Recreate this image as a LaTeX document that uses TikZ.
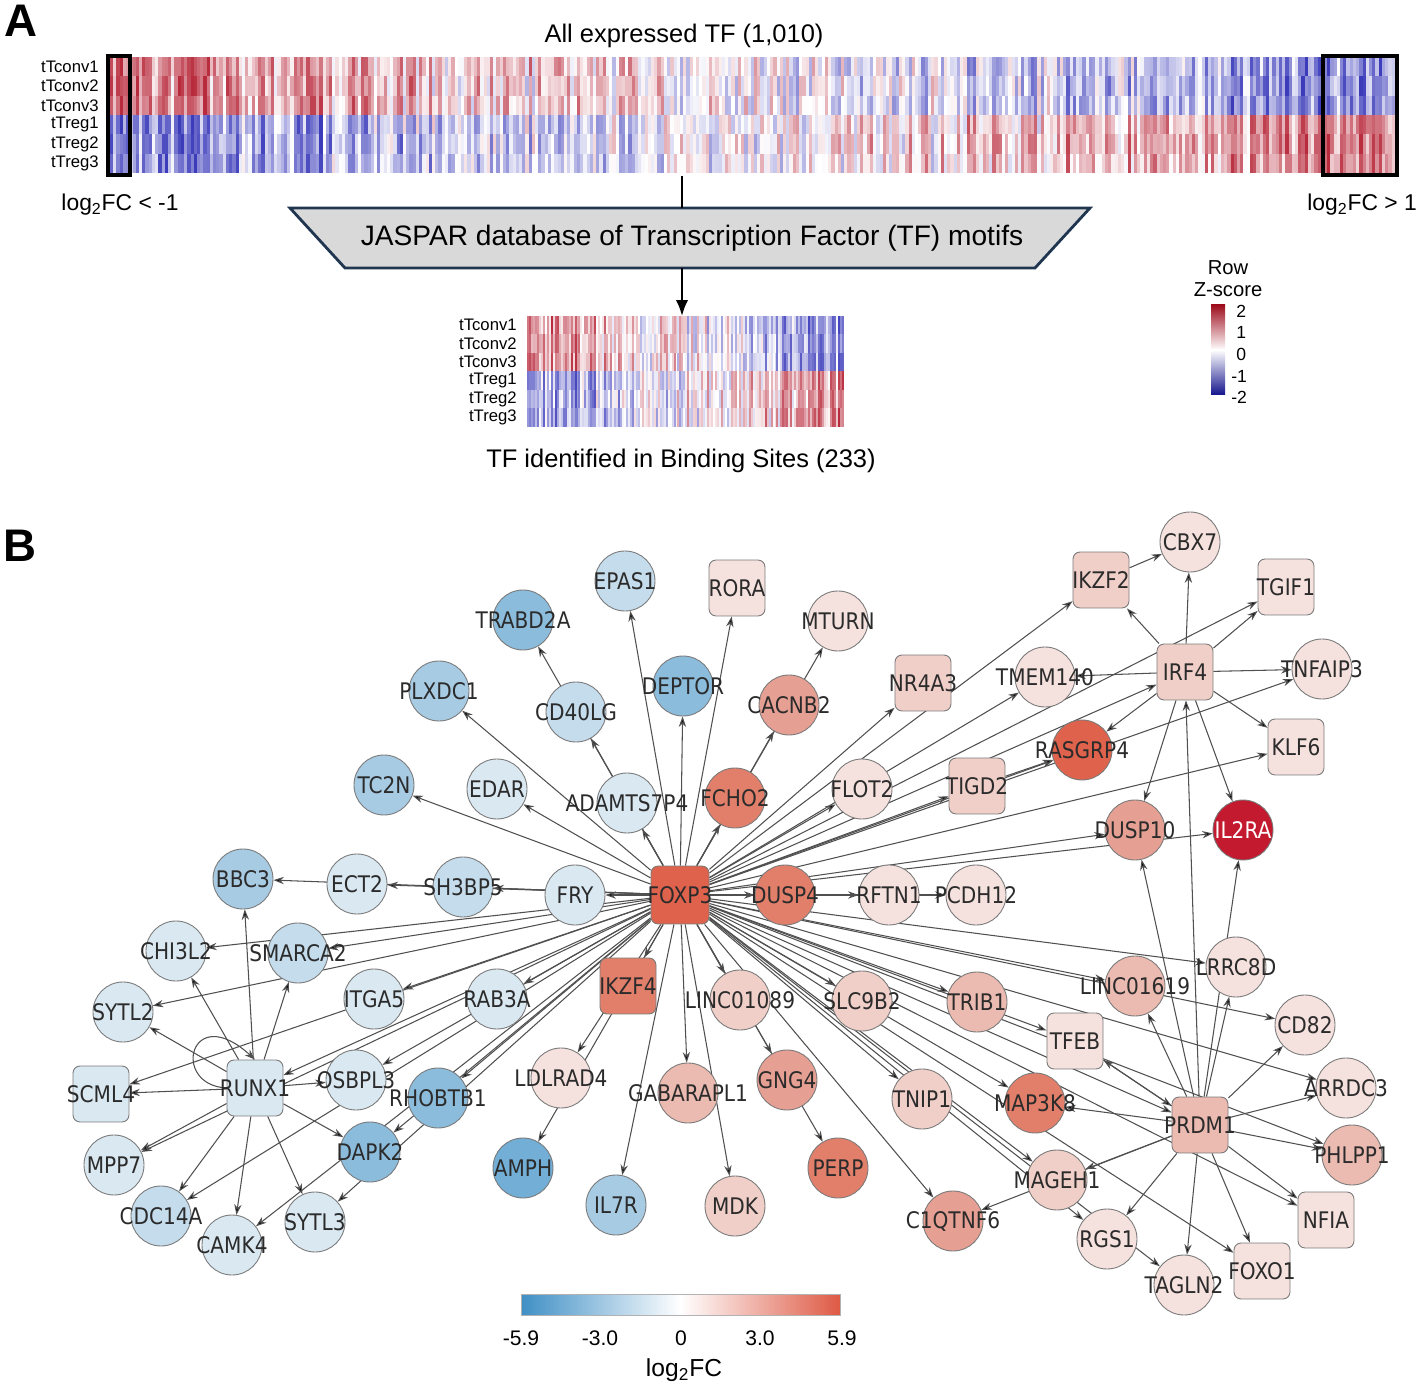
\documentclass[tikz,border=0pt]{standalone}
\usepackage{fontspec}
\setmainfont{Liberation Sans}
\newfontfamily\netfont[FakeStretch=0.88]{DejaVu Sans}
\usetikzlibrary{arrows.meta,positioning,calc}
\pgfdeclarelayer{edges}
\pgfsetlayers{edges,main}

\begin{document}
\begin{tikzpicture}[
    x=0.02cm, y=-0.02cm,
    >=Stealth,
    lbl/.style={font=\netfont\fontsize{13}{15}\selectfont, text=labelColor, inner sep=0pt},
    gene/.style={circle, draw=nodeLine, line width=0.5pt, minimum size=1.2cm, inner sep=0pt, label={[lbl]center:#1}},
    tfbox/.style={rectangle, rounded corners=4pt, draw=nodeLine, line width=0.5pt, minimum size=1.12cm, inner sep=0pt, label={[lbl]center:#1}},
    edge/.style={draw=edgeColor, line width=0.6pt, -{Stealth[length=6pt,width=4.2pt]}},
    rowlab/.style={font=\fontsize{9.5}{10}\selectfont, anchor=east, inner sep=0pt},
    ticklab/.style={font=\fontsize{12}{14}\selectfont, inner sep=0pt},
    ]

    % Colors
    \definecolor{labelColor}{HTML}{2B2B2B}
    \definecolor{nodeLine}{HTML}{7A7A7A}
    \definecolor{edgeColor}{HTML}{505050}
    \definecolor{hmRed}{HTML}{B2182B}
    \definecolor{hmBlue}{HTML}{2B2BB5}
    \definecolor{zTop}{HTML}{9E0E1E}
    \definecolor{zBot}{HTML}{13138C}
    \definecolor{jaspFill}{HTML}{D9D9D9}
    \definecolor{jaspLine}{HTML}{1F3550}
    \definecolor{fcBlue}{HTML}{3F8FC5}
    \definecolor{fcRed}{HTML}{DE5A45}
    \definecolor{b1}{HTML}{DAE8F2}
    \definecolor{b2}{HTML}{C5DCEC}
    \definecolor{b3}{HTML}{A8CBE4}
    \definecolor{b4}{HTML}{8CBCDC}
    \definecolor{b5}{HTML}{72AED6}
    \definecolor{r1}{HTML}{F5E1DD}
    \definecolor{r2}{HTML}{F0CFC8}
    \definecolor{r3}{HTML}{EBBAB0}
    \definecolor{r4}{HTML}{E6A093}
    \definecolor{r5}{HTML}{E27F6B}
    \definecolor{r6}{HTML}{DF634C}
    \definecolor{r7}{HTML}{C41A2F}

    \useasboundingbox (0,0) rectangle (1417,1391);

    % ---------------- Panel A ----------------
    \node[font=\bfseries\fontsize{26}{28}\selectfont, inner sep=0pt] (panelA) at (21,21) {A};
    \node[font=\fontsize{14.5}{16}\selectfont] (allTitle) at (684,36) {All expressed TF (1,010)};

    % Big heatmap
    \pgfmathsetseed{11}
    \foreach \ci in {0,...,399}{
      \pgfmathsetmacro{\hx}{110+\ci*3.22}
      \pgfmathsetmacro{\dv}{1.2*(1-2*\ci/399)+0.8*rand}
      \foreach \ri in {0,...,5}{
        \pgfmathsetmacro{\zv}{(\ri<3 ? 1 : -1)*\dv+0.5*rand}
        \pgfmathtruncatemacro{\pc}{min(92,abs(\zv)*45)}
        \ifdim\zv pt>0pt\def\hc{hmRed}\else\def\hc{hmBlue}\fi
        \fill[\hc!\pc!white] (\hx,{57+\ri*19.33}) rectangle ++(3.3,19.33);
      }
    }
    \foreach \lab [count=\k from 0] in {tTconv1,tTconv2,tTconv3,tTreg1,tTreg2,tTreg3}
      \node[rowlab] (bigrow\k) at (99,{66.7+\k*19.33}) {\lab};

    % Selection boxes
    \draw[line width=2.7pt] (108,56) rectangle (130,175);
    \draw[line width=2.7pt] (1323,56) rectangle (1397,175);
    \node[font=\fontsize{13}{15}\selectfont] (lowFC) at (120,205) {log\textsubscript{2}FC < -1};
    \node[font=\fontsize{13}{15}\selectfont] (highFC) at (1362,205) {log\textsubscript{2}FC > 1};

    % JASPAR filter
    \draw[fill=jaspFill, draw=jaspLine, line width=1.6pt] (290,208) -- (1090,208) -- (1035,268) -- (345,268) -- cycle;
    \node[font=\fontsize{16}{18}\selectfont] (jaspar) at (692,238) {JASPAR database of Transcription Factor (TF) motifs};
    \coordinate (hmBottom) at (682,176);
    \coordinate (jTop) at (682,208);
    \coordinate (jBot) at (682,268);
    \coordinate (smallTop) at (682,316);
    \draw[line width=1.2pt] (hmBottom) -- (jTop);
    \draw[line width=1.2pt, -{Latex[length=9pt,width=7pt]}] (jBot) -- (smallTop);

    % Small heatmap
    \foreach \ci in {0,...,159}{
      \pgfmathsetmacro{\hx}{527+\ci*1.98}
      \pgfmathsetmacro{\dv}{1.1*(1-2*\ci/159)+0.8*rand}
      \foreach \ri in {0,...,5}{
        \pgfmathsetmacro{\zv}{(\ri<3 ? 1 : -1)*\dv+0.5*rand}
        \pgfmathtruncatemacro{\pc}{min(92,abs(\zv)*45)}
        \ifdim\zv pt>0pt\def\hc{hmRed}\else\def\hc{hmBlue}\fi
        \fill[\hc!\pc!white] (\hx,{316+\ri*18.5}) rectangle ++(2.05,18.5);
      }
    }
    \foreach \lab [count=\k from 0] in {tTconv1,tTconv2,tTconv3,tTreg1,tTreg2,tTreg3}
      \node[rowlab] (smallrow\k) at (517,{325+\k*18.5}) {\lab};
    \node[font=\fontsize{14.5}{16}\selectfont] (bindTitle) at (681,461) {TF identified in Binding Sites (233)};

    % Row Z-score legend
    \node[font=\fontsize{11.5}{13}\selectfont] (zRow) at (1228,268) {Row};
    \node[font=\fontsize{11.5}{13}\selectfont] (zScore) at (1228,290) {Z-score};
    \shade[top color=zTop, bottom color=white] (1211,305) rectangle (1225,350);
    \shade[top color=white, bottom color=zBot] (1211,350) rectangle (1225,395);
    \node[font=\fontsize{10}{12}\selectfont, anchor=west, inner sep=0pt] (z2) at (1236,311) {2};
    \node[font=\fontsize{10}{12}\selectfont, anchor=west, inner sep=0pt] (z1) at (1236,332) {1};
    \node[font=\fontsize{10}{12}\selectfont, anchor=west, inner sep=0pt] (z0) at (1236,354) {0};
    \node[font=\fontsize{10}{12}\selectfont, anchor=west, inner sep=0pt] (zm1) at (1231,376) {-1};
    \node[font=\fontsize{10}{12}\selectfont, anchor=west, inner sep=0pt] (zm2) at (1231,397) {-2};

    % ---------------- Panel B ----------------
    \node[font=\bfseries\fontsize{26}{28}\selectfont, inner sep=0pt] (panelB) at (20,546) {B};

    % Hubs
    \node[tfbox=FOXP3, fill=r6, minimum size=1.16cm] (FOXP3) at (680,895) {};
    \node[tfbox=RUNX1, fill=b1] (RUNX1) at (255,1088) {};
    \node[tfbox=IRF4, fill=r2] (IRF4) at (1185,672) {};
    \node[tfbox=PRDM1, fill=r3] (PRDM1) at (1200,1125) {};

    % Upper fan
    \node[gene=EPAS1, fill=b2] (EPAS1) at (625,581) {};
    \node[tfbox=RORA, fill=r1] (RORA) at (737,588) {};
    \node[gene=TRABD2A, fill=b4] (TRABD2A) at (523,620) {};
    \node[gene=MTURN, fill=r1] (MTURN) at (838,621) {};
    \node[gene=PLXDC1, fill=b3] (PLXDC1) at (439,691) {};
    \node[gene=CD40LG, fill=b2] (CD40LG) at (576,712) {};
    \node[gene=DEPTOR, fill=b4] (DEPTOR) at (683,686) {};
    \node[gene=CACNB2, fill=r4] (CACNB2) at (789,705) {};
    \node[gene=TC2N, fill=b3] (TC2N) at (384,785) {};
    \node[gene=EDAR, fill=b1] (EDAR) at (497,789) {};
    \node[gene=ADAMTS7P4, fill=b1] (ADAMTS7P4) at (627,803) {};
    \node[gene=FCHO2, fill=r5] (FCHO2) at (735,798) {};
    \node[gene=FLOT2, fill=r1] (FLOT2) at (862,789) {};

    % Upper right
    \node[tfbox=NR4A3, fill=r2] (NR4A3) at (923,683) {};
    \node[gene=TMEM140, fill=r1] (TMEM140) at (1045,677) {};
    \node[tfbox=IKZF2, fill=r2] (IKZF2) at (1101,580) {};
    \node[gene=CBX7, fill=r1] (CBX7) at (1190,542) {};
    \node[tfbox=TGIF1, fill=r1] (TGIF1) at (1286,587) {};
    \node[gene=TNFAIP3, fill=r1] (TNFAIP3) at (1322,669) {};
    \node[tfbox=KLF6, fill=r1] (KLF6) at (1296,747) {};
    \node[gene=RASGRP4, fill=r6] (RASGRP4) at (1082,750) {};
    \node[tfbox=TIGD2, fill=r2] (TIGD2) at (977,786) {};
    \node[gene=DUSP10, fill=r4] (DUSP10) at (1135,830) {};
    \node[gene={\textcolor{white}{IL2RA}}, fill=r7] (IL2RA) at (1243,830) {};

    % Middle row
    \node[gene=BBC3, fill=b3] (BBC3) at (243,879) {};
    \node[gene=ECT2, fill=b1] (ECT2) at (357,884) {};
    \node[gene=SH3BP5, fill=b2] (SH3BP5) at (463,887) {};
    \node[gene=FRY, fill=b1] (FRY) at (575,895) {};
    \node[gene=DUSP4, fill=r5] (DUSP4) at (785,895) {};
    \node[gene=RFTN1, fill=r1] (RFTN1) at (889,895) {};
    \node[gene=PCDH12, fill=r1] (PCDH12) at (976,895) {};

    % Lower left
    \node[gene=CHI3L2, fill=b1] (CHI3L2) at (176,951) {};
    \node[gene=SMARCA2, fill=b2] (SMARCA2) at (298,953) {};
    \node[gene=SYTL2, fill=b1] (SYTL2) at (123,1012) {};
    \node[gene=ITGA5, fill=b1] (ITGA5) at (374,999) {};
    \node[gene=RAB3A, fill=b1] (RAB3A) at (497,999) {};
    \node[tfbox=SCML4, fill=b1] (SCML4) at (101,1094) {};
    \node[gene=OSBPL3, fill=b1] (OSBPL3) at (356,1080) {};
    \node[gene=RHOBTB1, fill=b4] (RHOBTB1) at (438,1098) {};
    \node[gene=MPP7, fill=b1] (MPP7) at (114,1165) {};
    \node[gene=DAPK2, fill=b4] (DAPK2) at (370,1152) {};
    \node[gene=CDC14A, fill=b2] (CDC14A) at (161,1216) {};
    \node[gene=SYTL3, fill=b1] (SYTL3) at (315,1222) {};
    \node[gene=CAMK4, fill=b1] (CAMK4) at (232,1245) {};

    % Lower middle
    \node[tfbox=IKZF4, fill=r5] (IKZF4) at (628,986) {};
    \node[gene=LINC01089, fill=r2] (LINC01089) at (740,1000) {};
    \node[gene=LDLRAD4, fill=r1] (LDLRAD4) at (561,1078) {};
    \node[gene=GABARAPL1, fill=r3] (GABARAPL1) at (688,1093) {};
    \node[gene=GNG4, fill=r4] (GNG4) at (787,1080) {};
    \node[gene=AMPH, fill=b5] (AMPH) at (523,1168) {};
    \node[gene=PERP, fill=r5] (PERP) at (838,1168) {};
    \node[gene=IL7R, fill=b3] (IL7R) at (616,1205) {};
    \node[gene=MDK, fill=r2] (MDK) at (735,1206) {};

    % Lower right
    \node[gene=SLC9B2, fill=r2] (SLC9B2) at (862,1001) {};
    \node[gene=TRIB1, fill=r3] (TRIB1) at (977,1002) {};
    \node[gene=LINC01619, fill=r3] (LINC01619) at (1135,986) {};
    \node[gene=LRRC8D, fill=r1] (LRRC8D) at (1236,967) {};
    \node[gene=CD82, fill=r1] (CD82) at (1305,1025) {};
    \node[tfbox=TFEB, fill=r1] (TFEB) at (1075,1041) {};
    \node[gene=TNIP1, fill=r2] (TNIP1) at (922,1099) {};
    \node[gene=MAP3K8, fill=r5] (MAP3K8) at (1035,1103) {};
    \node[gene=ARRDC3, fill=r1] (ARRDC3) at (1346,1088) {};
    \node[gene=PHLPP1, fill=r3] (PHLPP1) at (1352,1155) {};
    \node[gene=MAGEH1, fill=r2] (MAGEH1) at (1057,1180) {};
    \node[tfbox=NFIA, fill=r1] (NFIA) at (1326,1220) {};
    \node[gene=C1QTNF6, fill=r4] (C1QTNF6) at (953,1221) {};
    \node[gene=RGS1, fill=r1] (RGS1) at (1107,1239) {};
    \node[gene=TAGLN2, fill=r1] (TAGLN2) at (1184,1285) {};
    \node[tfbox=FOXO1, fill=r1] (FOXO1) at (1262,1271) {};

    % Regulatory edges (behind the nodes)
    \begin{pgfonlayer}{edges}
      \path[edge] (FOXP3)
        edge (FRY) edge (SH3BP5) edge (ECT2) edge (BBC3) edge (TC2N) edge (EDAR)
        edge (PLXDC1) edge (ADAMTS7P4) edge (CD40LG) edge (TRABD2A) edge (EPAS1)
        edge (DEPTOR) edge (RORA) edge (FCHO2) edge (CACNB2) edge (MTURN)
        edge (FLOT2) edge (NR4A3) edge (IKZF2) edge (TMEM140) edge (TIGD2)
        edge (IRF4) edge (RASGRP4) edge (TGIF1) edge (TNFAIP3) edge (KLF6)
        edge (DUSP10) edge (IL2RA) edge (DUSP4) edge (RFTN1) edge (PCDH12)
        edge (LRRC8D) edge (LINC01619) edge (CD82) edge (ARRDC3) edge (PHLPP1)
        edge (NFIA) edge (TFEB) edge (TRIB1) edge (SLC9B2) edge (PRDM1)
        edge (MAP3K8) edge (TNIP1) edge (MAGEH1) edge (RGS1) edge (TAGLN2)
        edge (FOXO1) edge (C1QTNF6) edge (LINC01089) edge (GNG4) edge (PERP)
        edge (MDK) edge (GABARAPL1) edge (IL7R) edge (IKZF4) edge (LDLRAD4)
        edge (AMPH) edge (RAB3A) edge (RHOBTB1) edge (DAPK2) edge (OSBPL3)
        edge (ITGA5) edge (RUNX1) edge (SCML4) edge (SYTL2) edge (CHI3L2)
        edge (SMARCA2) edge (MPP7) edge (CDC14A) edge (CAMK4) edge (SYTL3);

      \path[edge] (RUNX1)
        edge (SYTL2) edge (CHI3L2) edge (BBC3) edge (SMARCA2) edge (SCML4)
        edge (OSBPL3) edge (MPP7) edge (CDC14A) edge (CAMK4) edge (SYTL3) edge (DAPK2);
      \draw[edge] (RUNX1.west) .. controls (170,1085) and (190,1000) .. (RUNX1.north);

      \path[edge] (IRF4)
        edge (IKZF2) edge (CBX7) edge (TGIF1) edge (TMEM140) edge (TNFAIP3)
        edge (KLF6) edge (RASGRP4) edge (DUSP10) edge (IL2RA);
      \path[edge] (IKZF2) edge (CBX7);
      \path[edge] (TIGD2) edge (RASGRP4);

      \path[edge] (PRDM1)
        edge (IRF4) edge (DUSP10) edge (IL2RA) edge (LRRC8D) edge (LINC01619)
        edge (TFEB) edge (MAP3K8) edge (MAGEH1) edge (C1QTNF6) edge (RGS1)
        edge (TAGLN2) edge (FOXO1) edge (NFIA) edge (PHLPP1) edge (ARRDC3) edge (CD82);
      \path[edge] (TFEB) edge (PRDM1);
    \end{pgfonlayer}

    % log2FC color bar
    \shade[left color=fcBlue, right color=fcRed, middle color=white] (521,1294) rectangle (840,1315);
    \draw[gray!60, line width=0.3pt] (521,1294) rectangle (840,1315);
    \node[ticklab] (fcA) at (521,1338) {-5.9};
    \node[ticklab] (fcB) at (600,1338) {-3.0};
    \node[ticklab] (fcC) at (681,1338) {0};
    \node[ticklab] (fcD) at (760,1338) {3.0};
    \node[ticklab] (fcE) at (842,1338) {5.9};
    \node[font=\fontsize{14}{16}\selectfont] (fcTitle) at (684,1370) {log\textsubscript{2}FC};
\end{tikzpicture}
\end{document}
